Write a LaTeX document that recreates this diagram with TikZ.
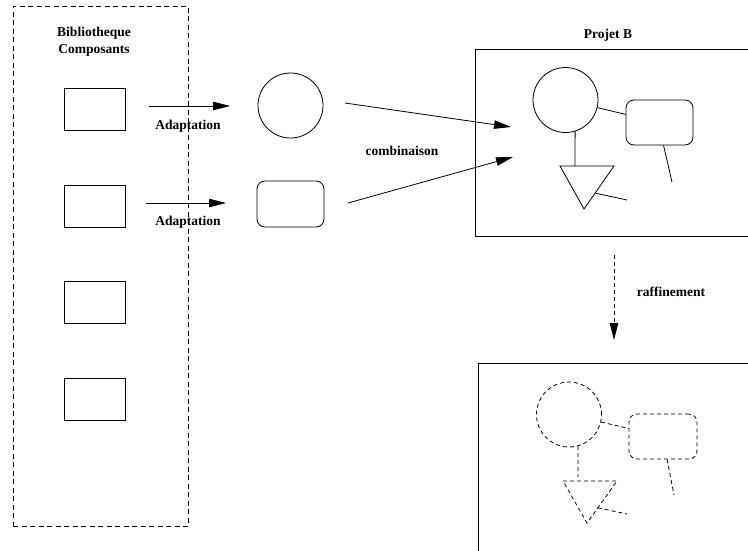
\documentclass[tikz,border=0pt]{standalone}
\usepackage{fontspec}
\setmainfont{Liberation Serif}
\usetikzlibrary{arrows.meta,calc}
\begin{document}
\begin{tikzpicture}[x=1pt,y=-1pt,
  line width=0.8pt,
  lbl/.style={font=\fontsize{13.5}{17}\selectfont\bfseries, inner sep=0pt, align=center},
  comp/.style={draw, minimum width=61pt, minimum height=42pt, inner sep=0pt},
  rcomp/.style={draw, rounded corners=8pt, inner sep=0pt},
  circ/.style={draw, circle, minimum size=65pt, inner sep=0pt},
  frame/.style={draw, inner sep=0pt},
  arr/.style={-{Triangle[length=17pt,width=8.5pt]}},
  dsh/.style={dash pattern=on 4pt off 3pt},
  libdash/.style={dash pattern=on 5pt off 3.5pt}]
\useasboundingbox (0,0) rectangle (748,550);
\clip (0,0) rectangle (748,550);

% component library
\node[frame, libdash, minimum width=175pt, minimum height=520pt] (lib) at (100.5,266) {};
\node[lbl] (libtitle) at (94,42) {Bibliotheque\\Composants};
\node[comp] (c1) at (94.5,109) {};
\node[comp] (c2) at (94.5,206) {};
\node[comp] (c3) at (94.5,302.5) {};
\node[comp] (c4) at (94.5,399) {};

% adapted components
\node[circ] (ac) at (290.5,105.5) {};
\node[rcomp, minimum width=67pt, minimum height=46pt] (ar) at (290.5,204) {};

\coordinate (a1s) at (149,106); \coordinate (a1e) at (230,106);
\coordinate (a2s) at (146,203); \coordinate (a2e) at (226,203);
\draw[arr] (a1s) -- (a1e);
\draw[arr] (a2s) -- (a2e);
\node[lbl] (ad1) at (188,126) {Adaptation};
\node[lbl] (ad2) at (188,222) {Adaptation};

% combination into project B
\coordinate (k1s) at (345,103); \coordinate (k1e) at (511,127);
\coordinate (k2s) at (348,203); \coordinate (k2e) at (513,157);
\draw[arr] (k1s) -- (k1e);
\draw[arr] (k2s) -- (k2e);
\node[lbl] (comb) at (402,151) {combinaison};

% project B
\node[lbl] (ptitle) at (608,35) {Projet B};
\node[frame, minimum width=285pt, minimum height=187pt] (pb) at (617.5,142.5) {};
\node[circ] (pc) at (565.5,100) {};
\node[rcomp, minimum width=67pt, minimum height=45pt] (pr) at (659.5,122.5) {};
\coordinate (pt1) at (560,166);
\coordinate (pt2) at (614,166);
\coordinate (pt3) at (584,209);
\coordinate (ptj) at (575,166);
\coordinate (pf1) at (627,200);
\coordinate (pf2) at (672,182);
\draw (pt1) -- (pt2) -- (pt3) -- cycle;
\draw (pc) -- (pr);
\draw (pc.-73) -- (ptj);
\draw ($(pt2)!0.63!(pt3)$) -- (pf1);
\draw (pr.-80) -- (pf2);

% refinement
\coordinate (rs) at (614,255); \coordinate (re) at (614,340);
\draw[arr, dsh] (rs) -- (re);
\node[lbl] (raff) at (671,292) {raffinement};

% refined project
\node[frame, minimum width=282pt, minimum height=197pt] (rb) at (619,461.5) {};
\node[circ, dsh] (rc) at (569,414.5) {};
\node[rcomp, dsh, minimum width=68pt, minimum height=45pt] (rr) at (663,436.5) {};
\coordinate (rt1) at (563,481);
\coordinate (rt2) at (617,481);
\coordinate (rt3) at (587,523);
\coordinate (rtj) at (578,477);
\coordinate (rf1) at (627,514);
\coordinate (rf2) at (674,495);
\draw[dsh] (rt1) -- (rt2) -- (rt3) -- cycle;
\draw[dsh] (rc) -- (rr);
\draw[dsh] (rc.-74) -- (rtj);
\draw[dsh] ($(rt2)!0.64!(rt3)$) -- (rf1);
\draw[dsh] (rr.-80) -- (rf2);
\end{tikzpicture}
\end{document}
